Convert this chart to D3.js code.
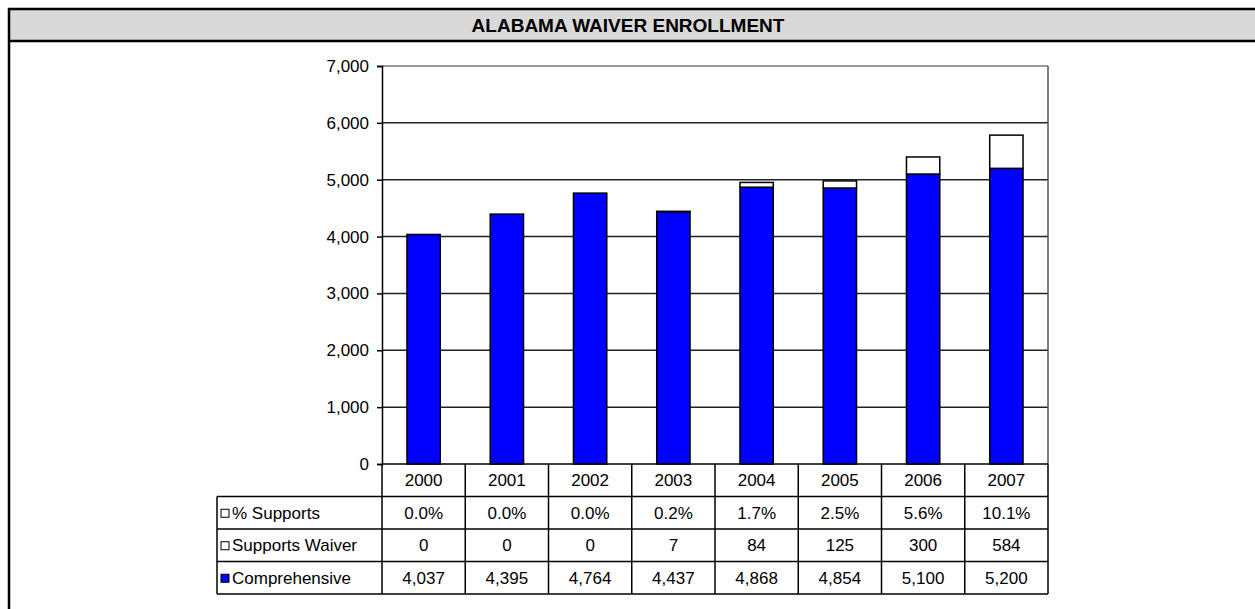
<!DOCTYPE html>
<html>
<head>
<meta charset="utf-8">
<script src="https://cdn.jsdelivr.net/npm/d3@7"></script>
<style>
  html, body { margin: 0; padding: 0; background: #fff; }
  svg { display: block; }
  text { font-family: "Liberation Sans", Arial, sans-serif; fill: #000; }
</style>
</head>
<body>
<svg id="chart" width="1255" height="609"></svg>
<script>
// Enrollment by year
const years = ["2000", "2001", "2002", "2003", "2004", "2005", "2006", "2007"];
const comprehensive = [4037, 4395, 4764, 4437, 4868, 4854, 5100, 5200];
const supportsWaiver = [0, 0, 0, 7, 84, 125, 300, 584];
const pctSupports = ["0.0%", "0.0%", "0.0%", "0.2%", "1.7%", "2.5%", "5.6%", "10.1%"];
const yTicks = [0, 1000, 2000, 3000, 4000, 5000, 6000, 7000];
const titleText = "ALABAMA WAIVER ENROLLMENT";

const svg = d3.select("#chart");
const W = 1255, H = 609;

// Page frame with title band
svg.append("rect").attr("x", 9).attr("y", 9).attr("width", W).attr("height", 32)
  .attr("fill", "#d9d9d9").attr("stroke", "none");
svg.append("line").attr("x1", 8).attr("x2", W).attr("y1", 9).attr("y2", 9)
  .attr("stroke", "#000").attr("stroke-width", 2.5);
svg.append("line").attr("x1", 8).attr("x2", W).attr("y1", 41).attr("y2", 41)
  .attr("stroke", "#000").attr("stroke-width", 2.5);
svg.append("line").attr("x1", 9).attr("x2", 9).attr("y1", 8).attr("y2", H)
  .attr("stroke", "#000").attr("stroke-width", 2.5);
svg.append("text").attr("x", 628).attr("y", 32).attr("text-anchor", "middle")
  .attr("font-size", 19).attr("font-weight", "bold").text(titleText);

// Plot geometry
const plotL = 382, plotR = 1048, plotT = 66, plotB = 464;
const col = d3.scaleBand().domain(years).range([plotL, plotR]);
const x = d3.scaleBand().domain(years).range([plotL, plotR]).paddingInner(0.6).paddingOuter(0.3);
const y = d3.scaleLinear().domain([0, 7000]).range([plotB, plotT]);

// Gridlines
svg.append("g").selectAll("line").data(yTicks.filter(d => d > 0)).join("line")
  .attr("x1", plotL).attr("x2", plotR)
  .attr("y1", d => y(d)).attr("y2", d => y(d))
  .attr("stroke", d => d === 7000 ? "#777" : "#222").attr("stroke-width", 1.5);
// right border of plot
svg.append("line").attr("x1", plotR).attr("x2", plotR).attr("y1", plotT).attr("y2", plotB)
  .attr("stroke", "#555").attr("stroke-width", 1.5);

// Stacked bars
const stackData = years.map((yr, i) => ({ year: yr, comp: comprehensive[i], sup: supportsWaiver[i] }));
const stack = d3.stack().keys(["comp", "sup"])(stackData);
const fills = { comp: "#0000ff", sup: "#ffffff" };
svg.append("g").selectAll("g").data(stack).join("g")
  .attr("fill", d => fills[d.key])
  .selectAll("rect").data(d => d.filter(p => p[1] > p[0])).join("rect")
  .attr("x", d => x(d.data.year))
  .attr("width", x.bandwidth())
  .attr("y", d => y(d[1]))
  .attr("height", d => y(d[0]) - y(d[1]))
  .attr("stroke", "#000").attr("stroke-width", 1.5);

// Y axis
const yAxis = svg.append("g").attr("transform", `translate(${plotL},0)`)
  .call(d3.axisLeft(y).tickValues(yTicks).tickFormat(d3.format(",")).tickSize(5).tickPadding(8));
yAxis.select(".domain").attr("stroke", "#000").attr("stroke-width", 1.5);
yAxis.selectAll(".tick line").attr("stroke", "#000").attr("stroke-width", 1.5);
yAxis.selectAll(".tick text").attr("font-size", 17).attr("font-family", "Liberation Sans, Arial, sans-serif").attr("fill", "#000");

// Data table
const tableL = 217;
const rowKeys = ["year", "pct", "sup", "comp"];
const rowLabels = { pct: "% Supports", sup: "Supports Waiver", comp: "Comprehensive" };
const rowVals = {
  year: years,
  pct: pctSupports,
  sup: supportsWaiver.map(d3.format(",")),
  comp: comprehensive.map(d3.format(","))
};
const row = d3.scaleBand().domain(rowKeys).range([plotB, 594]);
const tbl = svg.append("g").attr("stroke", "#000").attr("stroke-width", 1.5);

// horizontal rules
rowKeys.forEach(k => {
  const yy = row(k) + row.bandwidth();
  tbl.append("line").attr("x1", tableL).attr("x2", plotR).attr("y1", yy).attr("y2", yy);
});
tbl.append("line").attr("x1", plotL).attr("x2", plotR).attr("y1", plotB).attr("y2", plotB);
// vertical rules
years.forEach(yr => {
  tbl.append("line").attr("x1", col(yr)).attr("x2", col(yr)).attr("y1", plotB).attr("y2", 594);
});
tbl.append("line").attr("x1", plotR).attr("x2", plotR).attr("y1", plotB).attr("y2", 594);
tbl.append("line").attr("x1", tableL).attr("x2", tableL).attr("y1", row("pct")).attr("y2", 594);

// cell values
rowKeys.forEach(k => {
  svg.append("g").selectAll("text").data(rowVals[k]).join("text")
    .attr("x", (d, i) => col(years[i]) + col.bandwidth() / 2)
    .attr("y", row(k) + row.bandwidth() / 2 + 6)
    .attr("text-anchor", "middle")
    .attr("font-size", 17)
    .text(d => d);
});

// row labels with legend keys
["pct", "sup", "comp"].forEach(k => {
  const cy = row(k) + row.bandwidth() / 2;
  svg.append("rect").attr("x", 221).attr("y", cy - 3.5).attr("width", 8).attr("height", 8)
    .attr("fill", k === "comp" ? "#0000ff" : "#fff").attr("stroke", "#000").attr("stroke-width", 1);
  svg.append("text").attr("x", 232).attr("y", cy + 6).attr("font-size", 17).text(rowLabels[k]);
});
</script>
</body>
</html>
